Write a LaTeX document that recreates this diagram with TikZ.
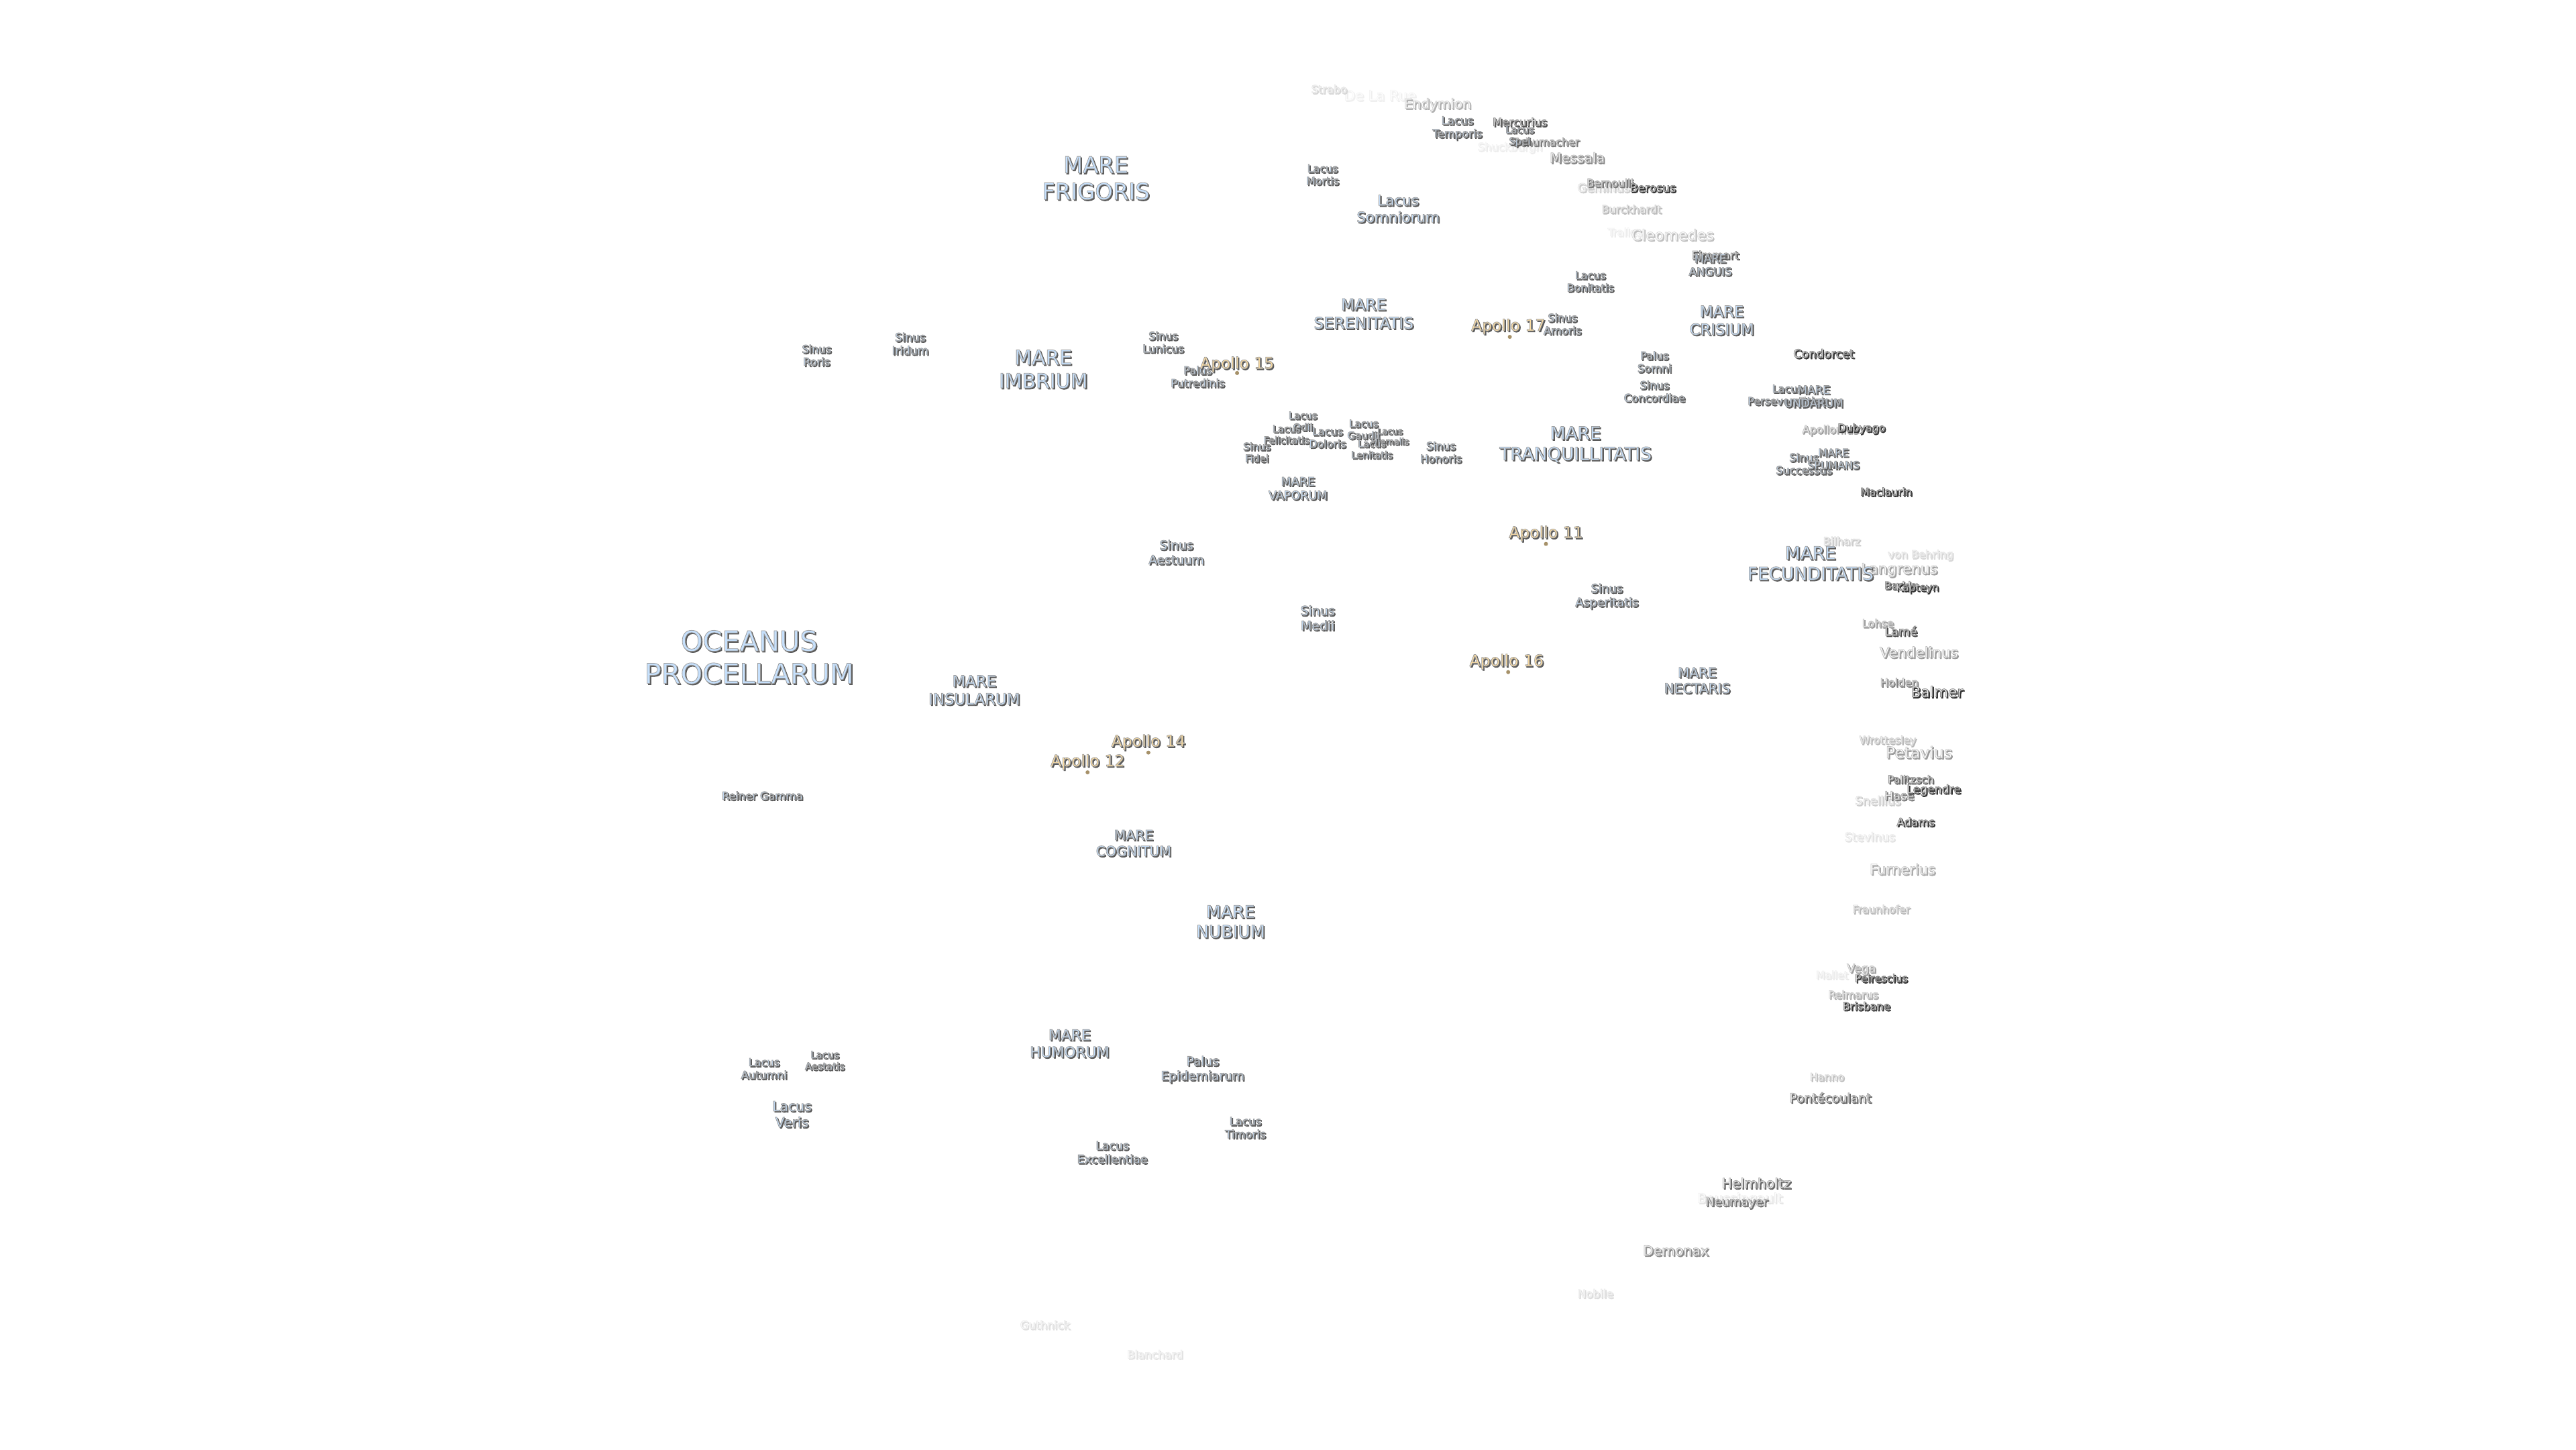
\documentclass[tikz,border=0pt]{standalone}
\usepackage{fontspec}
\setsansfont{DejaVu Sans}
\definecolor{mareblue}{HTML}{C6E0FC}
\definecolor{apollotan}{HTML}{FFDFA2}
\newsavebox\halobox
\newcommand\strokeon[1]{\special{pdf:code 2 Tr 0.22 w \fpeval{round(1-#1/100,3)} G}}
\newcommand\strokeoff{\special{pdf:code 0 Tr}}
\newcommand\halo[3]{%
  \setbox\halobox=\hbox{\renewcommand\arraystretch{1.17}\begin{tabular}{@{}c@{}}#3\end{tabular}}%
  \rlap{\kern.5pt\raisebox{-.5pt}{\color{black!#2}\strokeon{#2}\usebox\halobox\strokeoff}}%
  {\color{#1}\strokeon{\fpeval{#2*.6}}\usebox\halobox\strokeoff}}
\newcommand\seaname[1]{\halo{mareblue}{65}{#1}}
\newcommand\siteName[1]{\halo{apollotan}{65}{#1}}
\newcommand\crat[2]{\halo{white}{\fpeval{min(#1*1.25,80)}}{#2}}
\begin{document}
\begin{tikzpicture}[x=0.02449cm, y=-0.02449cm]

  \tikzset{
    sz/.style={font=\sffamily\fontsize{#1}{#1}\selectfont},
    moonname/.style={inner sep=0pt, outer sep=0pt, yshift=-0.035cm},
    landing/.style={circle, fill=apollotan!65!black, inner sep=0pt, minimum size=0.06cm}
  }

  \useasboundingbox (0,0) rectangle (1568,882);

  % craters, faint ones first
  \node[moonname, sz=6] (delarue) at (840,58) {\crat{5}{De La Rue}};
  \node[moonname, sz=4.6] (shuckburgh) at (919,89) {\crat{6}{Shuckburgh}};
  \node[moonname, sz=4.6] (tralles) at (989,141) {\crat{6}{Tralles}};
  \node[moonname, sz=4.5] (mallet) at (1115,593) {\crat{7}{Mallet}};
  \node[moonname, sz=5.6] (boussingault) at (1059,729) {\crat{8}{Boussingault}};
  \node[moonname, sz=5] (stevinus) at (1138,509) {\crat{9}{Stevinus}};
  \node[moonname, sz=4.7] (blanchard) at (703,824) {\crat{9}{Blanchard}};
  \node[moonname, sz=4.7] (guthnick) at (636,806) {\crat{10}{Guthnick}};
  \node[moonname, sz=4.8] (nobile) at (971,787) {\crat{11}{Nobile}};
  \node[moonname, sz=4.6] (strabo) at (809,54) {\crat{13}{Strabo}};
  \node[moonname, sz=4.6] (vonbehring) at (1169,337) {\crat{13}{von Behring}};
  \node[moonname, sz=4.6] (bilharz) at (1121,329) {\crat{16}{Bilharz}};
  \node[moonname, sz=5] (geminus) at (976,114) {\crat{16}{Geminus}};
  \node[moonname, sz=5] (snellius) at (1143,487) {\crat{16}{Snellius}};
  \node[moonname, sz=6.3] (cleomedes) at (1018,143) {\crat{20}{Cleomedes}};
  \node[moonname, sz=4.5] (hanno) at (1112,655) {\crat{20}{Hanno}};
  \node[moonname, sz=4.6] (burckhardt) at (993,127) {\crat{22}{Burckhardt}};
  \node[moonname, sz=4.5] (wrottesley) at (1149,450) {\crat{22}{Wrottesley}};
  \node[moonname, sz=4.5] (fraunhofer) at (1145,553) {\crat{22}{Fraunhofer}};
  \node[moonname, sz=5.7] (endymion) at (875,63) {\crat{25}{Endymion}};
  \node[moonname, sz=4.5] (reimarus) at (1128,605) {\crat{26}{Reimarus}};
  \node[moonname, sz=6] (furnerius) at (1158,529) {\crat{27}{Furnerius}};
  \node[moonname, sz=5] (vega) at (1133,589) {\crat{30}{Vega}};
  \node[moonname, sz=4.6] (apollonius) at (1114,261) {\crat{30}{Apollonius}};
  \node[moonname, sz=6.2] (langrenus) at (1156,346) {\crat{30}{Langrenus}};
  \node[moonname, sz=6.1] (vendelinus) at (1168,397) {\crat{32}{Vendelinus}};
  \node[moonname, sz=6.7] (petavius) at (1168,458) {\crat{32}{Petavius}};
  \node[moonname, sz=4.6] (lohse) at (1143,379) {\crat{32}{Lohse}};
  \node[moonname, sz=5.8] (demonax) at (1020,761) {\crat{38}{Demonax}};
  \node[moonname, sz=5.8] (messala) at (960,96) {\crat{38}{Messala}};
  \node[moonname, sz=4.6] (holden) at (1156,415) {\crat{40}{Holden}};
  \node[moonname, sz=4.5] (schumacher) at (941,86) {\crat{42}{Schumacher}};
  \node[moonname, sz=5] (hase) at (1156,484) {\crat{42}{Hase}};
  \node[moonname, sz=4.5] (bernoulli) at (980,111) {\crat{42}{Bernoulli}};
  \node[moonname, sz=5.1] (neumayer) at (1057,731) {\crat{45}{Neumayer}};
  \node[moonname, sz=5.3] (pontecoulant) at (1114,668) {\crat{48}{Pontécoulant}};
  \node[moonname, sz=5.8] (helmholtz) at (1069,720) {\crat{48}{Helmholtz}};
  \node[moonname, sz=4.5] (firmicus) at (1108,244) {\crat{48}{Firmicus}};
  \node[moonname, sz=4.5] (palitzsch) at (1163,474) {\crat{50}{Palitzsch}};
  \node[moonname, sz=4.7] (eimmart) at (1044,155) {\crat{52}{Eimmart}};
  \node[moonname, sz=4.7] (mercurius) at (925,74) {\crat{55}{Mercurius}};
  \node[moonname, sz=4.4] (barkla) at (1157,356) {\crat{55}{Barkla}};
  \node[moonname, sz=5] (lame) at (1157,384) {\crat{58}{Lamé}};
  \node[moonname, sz=5] (condorcet) at (1110,215) {\crat{65}{Condorcet}};
  \node[moonname, sz=4.6] (brisbane) at (1136,612) {\crat{68}{Brisbane}};
  \node[moonname, sz=4.4] (kapteyn) at (1167,357) {\crat{70}{Kapteyn}};
  \node[moonname, sz=4.5] (peirescius) at (1145,595) {\crat{72}{Peirescius}};
  \node[moonname, sz=4.5] (maclaurin) at (1148,299) {\crat{72}{Maclaurin}};
  \node[moonname, sz=6.2] (balmer) at (1179,421) {\crat{78}{Balmer}};
  \node[moonname, sz=4.7] (adams) at (1166,500) {\crat{85}{Adams}};
  \node[moonname, sz=4.9] (legendre) at (1177,480) {\crat{88}{Legendre}};
  \node[moonname, sz=4.5] (dubyago) at (1133,260) {\crat{88}{Dubyago}};
  \node[moonname, sz=4.9] (berosus) at (1006,114) {\crat{90}{Berosus}};

  % seas, lakes, bays
  \node[moonname, sz=11.8] (procellarum) at (456,401) {\seaname{OCEANUS\\PROCELLARUM}};
  \node[moonname, sz=9.6] (frigoris) at (667,109) {\seaname{MARE\\FRIGORIS}};
  \node[moonname, sz=8.5] (imbrium) at (635,225) {\seaname{MARE\\IMBRIUM}};
  \node[moonname, sz=6.7] (serenitatis) at (830,191) {\seaname{MARE\\SERENITATIS}};
  \node[moonname, sz=6.5] (crisium) at (1048,195) {\seaname{MARE\\CRISIUM}};
  \node[moonname, sz=7.5] (tranquillitatis) at (959,270) {\seaname{MARE\\TRANQUILLITATIS}};
  \node[moonname, sz=7.5] (fecunditatis) at (1102,343) {\seaname{MARE\\FECUNDITATIS}};
  \node[moonname, sz=5.7] (nectaris) at (1033,414) {\seaname{MARE\\NECTARIS}};
  \node[moonname, sz=5] (vaporum) at (790,297) {\seaname{MARE\\VAPORUM}};
  \node[moonname, sz=6.5] (insularum) at (593,420) {\seaname{MARE\\INSULARUM}};
  \node[moonname, sz=5.8] (cognitum) at (690,513) {\seaname{MARE\\COGNITUM}};
  \node[moonname, sz=7.2] (nubium) at (749,561) {\seaname{MARE\\NUBIUM}};
  \node[moonname, sz=6.2] (humorum) at (651,635) {\seaname{MARE\\HUMORUM}};
  \node[moonname, sz=4.7] (anguis) at (1041,161) {\seaname{MARE\\ANGUIS}};
  \node[moonname, sz=4.5] (perseverantiae) at (1088,240) {\seaname{Lacus\\Perseverantiae}};
  \node[moonname, sz=4.8] (undarum) at (1104,241) {\seaname{MARE\\UNDARUM}};
  \node[moonname, sz=4.6] (successus) at (1098,282) {\seaname{Sinus\\Successus}};
  \node[moonname, sz=4.5] (spumans) at (1116,279) {\seaname{MARE\\SPUMANS}};
  \node[moonname, sz=6.1] (somniorum) at (851,127) {\seaname{Lacus\\Somniorum}};
  \node[moonname, sz=4.7] (temporis) at (887,77) {\seaname{Lacus\\Temporis}};
  \node[moonname, sz=4.5] (mortis) at (805,106) {\seaname{Lacus\\Mortis}};
  \node[moonname, sz=4.2] (spei) at (925,82) {\seaname{Lacus\\Spei}};
  \node[moonname, sz=4.5] (bonitatis) at (968,171) {\seaname{Lacus\\Bonitatis}};
  \node[moonname, sz=4.6] (amoris) at (951,197) {\seaname{Sinus\\Amoris}};
  \node[moonname, sz=4.6] (somni) at (1007,220) {\seaname{Palus\\Somni}};
  \node[moonname, sz=4.6] (concordiae) at (1007,238) {\seaname{Sinus\\Concordiae}};
  \node[moonname, sz=5] (asperitatis) at (978,362) {\seaname{Sinus\\Asperitatis}};
  \node[moonname, sz=5.3] (aestuum) at (716,336) {\seaname{Sinus\\Aestuum}};
  \node[moonname, sz=5.4] (medii) at (802,376) {\seaname{Sinus\\Medii}};
  \node[moonname, sz=4.8] (iridum) at (554,209) {\seaname{Sinus\\Iridum}};
  \node[moonname, sz=4.6] (roris) at (497,216) {\seaname{Sinus\\Roris}};
  \node[moonname, sz=4.6] (lunicus) at (708,208) {\seaname{Sinus\\Lunicus}};
  \node[moonname, sz=4.6] (putredinis) at (729,229) {\seaname{Palus\\Putredinis}};
  \node[moonname, sz=4.2] (odii) at (793,256) {\seaname{Lacus\\Odii}};
  \node[moonname, sz=4.1] (felicitatis) at (783,264) {\seaname{Lacus\\Felicitatis}};
  \node[moonname, sz=4.5] (doloris) at (808,266) {\seaname{Lacus\\Doloris}};
  \node[moonname, sz=4.3] (fidei) at (765,275) {\seaname{Sinus\\Fidei}};
  \node[moonname, sz=4.3] (gaudii) at (830,261) {\seaname{Lacus\\Gaudii}};
  \node[moonname, sz=3.7] (hiemalis) at (846,265) {\seaname{Lacus\\Hiemalis}};
  \node[moonname, sz=4.1] (lenitatis) at (835,273) {\seaname{Lacus\\Lenitatis}};
  \node[moonname, sz=4.6] (honoris) at (877,275) {\seaname{Sinus\\Honoris}};
  \node[moonname, sz=4.6] (autumni) at (465,650) {\seaname{Lacus\\Autumni}};
  \node[moonname, sz=4.2] (aestatis) at (502,645) {\seaname{Lacus\\Aestatis}};
  \node[moonname, sz=5.8] (veris) at (482,678) {\seaname{Lacus\\Veris}};
  \node[moonname, sz=5.3] (epidemiarum) at (732,650) {\seaname{Palus\\Epidemiarum}};
  \node[moonname, sz=4.9] (excellentiae) at (677,701) {\seaname{Lacus\\Excellentiae}};
  \node[moonname, sz=4.7] (timoris) at (758,686) {\seaname{Lacus\\Timoris}};
  \node[moonname, sz=4.6] (reiner) at (464,484) {\seaname{Reiner Gamma}};

  % landing sites
  \node[moonname, sz=6.7] (ap15) at (753,221) {\siteName{Apollo 15}};
  \node[moonname, sz=6.7] (ap17) at (918,198) {\siteName{Apollo 17}};
  \node[moonname, sz=6.7] (ap11) at (941,324) {\siteName{Apollo 11}};
  \node[moonname, sz=6.7] (ap16) at (917,402) {\siteName{Apollo 16}};
  \node[moonname, sz=6.7] (ap14) at (699,451) {\siteName{Apollo 14}};
  \node[moonname, sz=6.7] (ap12) at (662,463) {\siteName{Apollo 12}};
  \node[landing] (ap15dot) at (753,227) {};
  \node[landing] (ap17dot) at (919,205) {};
  \node[landing] (ap11dot) at (941,331) {};
  \node[landing] (ap16dot) at (918,409) {};
  \node[landing] (ap14dot) at (699,458) {};
  \node[landing] (ap12dot) at (662,470) {};

\end{tikzpicture}
\end{document}
